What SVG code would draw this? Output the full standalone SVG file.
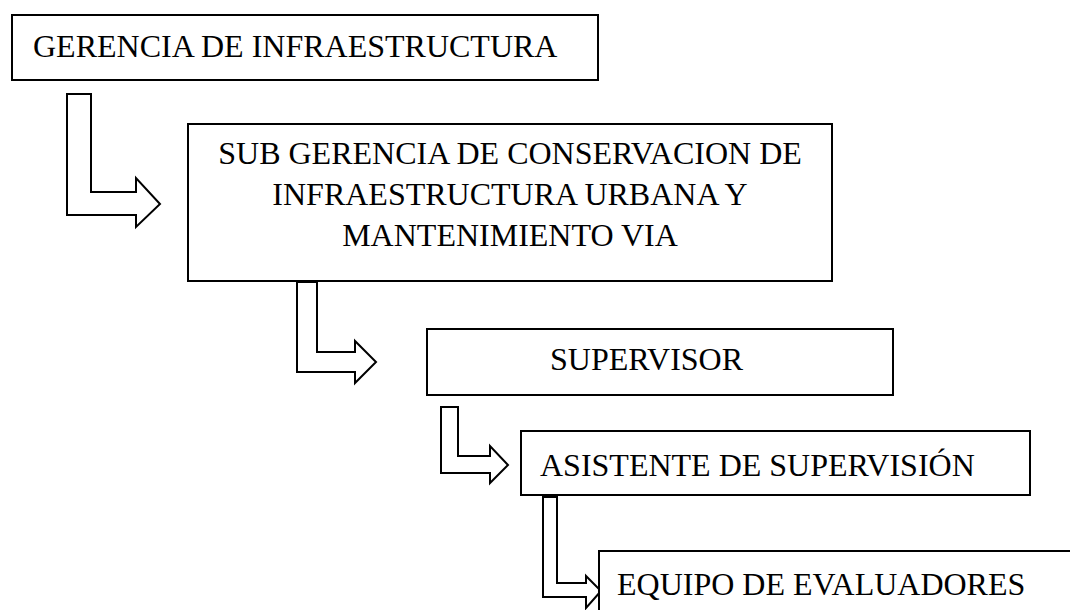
<svg xmlns="http://www.w3.org/2000/svg" width="1070" height="610" viewBox="0 0 1070 610">
<style>
.box{fill:#fff;stroke:#000;stroke-width:2}
.arr{fill:#fff;stroke:#000;stroke-width:2;stroke-linejoin:miter}
text{font-family:"Liberation Serif","Times New Roman",serif;font-size:32px;fill:#000}
</style>
<rect width="1070" height="610" fill="#fff"/>
<g id="connectors">
<polygon class="arr" points="67,94 91,94 91,192 136,192 136,178 160,204 136,227 136,215 67,215"/>
<polygon class="arr" points="297,282 317,282 317,352 355,352 355,341 376,362 355,383 355,372 297,372"/>
<polygon class="arr" points="441,407 458,407 458,456 490,456 490,446 508,465 490,483 490,473 441,473"/>
<polygon class="arr" points="543,497 557,497 557,583 586,583 586,576 601,591 586,608 586,597 543,597"/>
</g>
<g id="n1">
<rect class="box" x="12" y="15" width="586" height="65"/>
<text x="33" y="57">GERENCIA DE INFRAESTRUCTURA</text>
</g>
<g id="n2">
<rect class="box" x="188" y="124" width="644" height="157"/>
<text x="510" y="164" text-anchor="middle">SUB GERENCIA DE CONSERVACION DE</text>
<text x="510" y="205" text-anchor="middle">INFRAESTRUCTURA URBANA Y</text>
<text x="510" y="246" text-anchor="middle">MANTENIMIENTO VIA</text>
</g>
<g id="n3">
<rect class="box" x="427" y="329" width="466" height="66"/>
<text x="550" y="370">SUPERVISOR</text>
</g>
<g id="n4">
<rect class="box" x="521" y="431" width="509" height="64"/>
<text x="540" y="476">ASISTENTE DE SUPERVISIÓN</text>
</g>
<g id="n5">
<rect class="box" x="599" y="551" width="520" height="100"/>
<text x="617" y="595">EQUIPO DE EVALUADORES</text>
</g>
</svg>
